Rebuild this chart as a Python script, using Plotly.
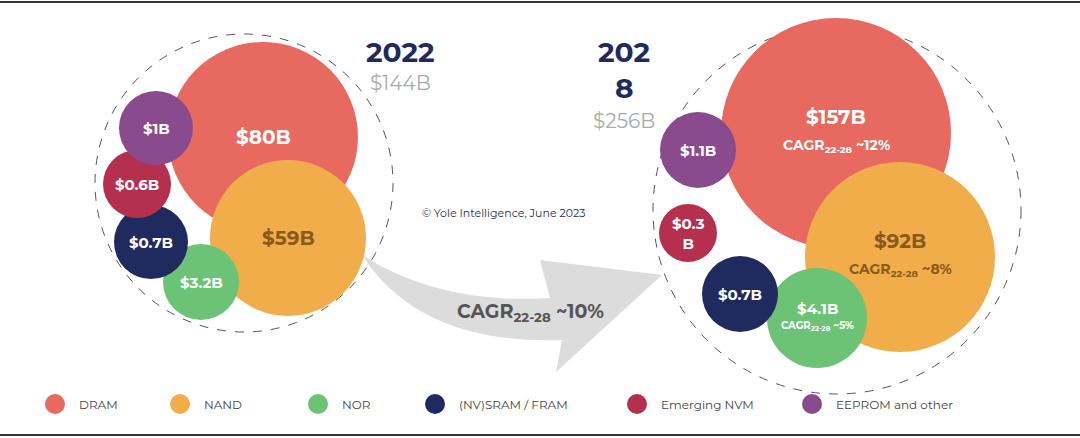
import plotly.graph_objects as go

segments = ["DRAM", "NAND", "NOR", "(NV)SRAM / FRAM", "Emerging NVM", "EEPROM and other"]
colors = ["#e8695f", "#f0ad4a", "#6cc375", "#1f2b5e", "#b5304f", "#8a4a8e"]
values_2022 = ["$80B", "$59B", "$3.2B", "$0.7B", "$0.6B", "$1B"]
values_2028 = ["$157B", "$92B", "$4.1B", "$0.7B", "$0.3<br>B", "$1.1B"]
cagr_2028 = ["CAGR<sub>22-28</sub> ~12%", "CAGR<sub>22-28</sub> ~8%", "CAGR<sub>22-28</sub> ~5%", "", "", ""]
totals = ["$144B", "$256B"]

# layout geometry (pixel space)
pos_2022 = [(263, 137, 95), (288, 238, 78), (201, 282, 38), (151, 242, 37), (137, 184, 34), (156, 128, 37)]
pos_2028 = [(836, 133, 115), (900, 257, 95), (817, 318, 50), (740, 294, 38), (688, 233, 29), (698, 150, 38)]
legend_x = [55, 180, 318, 435, 637, 812]

F = "Montserrat, Open Sans, sans-serif"
fig = go.Figure()
shapes = []
ann = []

def circ(cx, cy, r, **kw):
    return dict(type="circle", xref="x", yref="y", x0=cx - r, x1=cx + r, y0=cy - r, y1=cy + r, **kw)

# arrow
shapes.append(dict(type="path", xref="x", yref="y",
                   path="M 362,255 Q 420,345 562,340 L 556,372 L 662,275 L 540,260 L 550,298 Q 440,305 362,255 Z",
                   fillcolor="#dcdcdc", line=dict(width=0), layer="below"))
shapes.append(circ(244, 183, 149, line=dict(color="#555", width=1, dash="dash")))
shapes.append(circ(837, 210, 184, line=dict(color="#555", width=1, dash="dash")))

for i in range(6):
    for pos, vals in ((pos_2022, values_2022), (pos_2028, values_2028)):
        cx, cy, r = pos[i]
        shapes.append(circ(cx, cy, r, fillcolor=colors[i], line=dict(width=0)))
    tc = "#8a5a1a" if i == 1 else "white"
    cx, cy, r = pos_2022[i]
    ann.append(dict(x=cx, y=cy, text="<b>%s</b>" % values_2022[i],
                    font=dict(size=20 if i < 2 else 15, color=tc, family=F), showarrow=False))
    cx, cy, r = pos_2028[i]
    off = -16 if cagr_2028[i] else 0
    if i == 2:
        off = -10
    ann.append(dict(x=cx, y=cy + off, text="<b>%s</b>" % values_2028[i],
                    font=dict(size=20 if i < 2 else 15, color=tc, family=F), showarrow=False))
    if cagr_2028[i]:
        ann.append(dict(x=cx, y=cy + (12 if i != 2 else 8), text="<b>%s</b>" % cagr_2028[i],
                        font=dict(size=14 if i < 2 else 10, color=tc, family=F), showarrow=False))
    shapes.append(circ(legend_x[i], 404, 10, fillcolor=colors[i], line=dict(width=0)))
    ann.append(dict(x=legend_x[i] + 22, y=404, text=segments[i], xanchor="left",
                    font=dict(size=12, color="#444", family=F), showarrow=False))

navy = "#1f2b5e"
ann += [
    dict(x=400, y=52, text="<b>2022</b>", font=dict(size=28, color=navy, family=F), showarrow=False),
    dict(x=400, y=83, text=totals[0], font=dict(size=20, color="#aaa", family=F), showarrow=False),
    dict(x=624, y=52, text="<b>202</b>", font=dict(size=28, color=navy, family=F), showarrow=False),
    dict(x=624, y=88, text="<b>8</b>", font=dict(size=28, color=navy, family=F), showarrow=False),
    dict(x=624, y=121, text=totals[1], font=dict(size=20, color="#aaa", family=F), showarrow=False),
    dict(x=503, y=213, text="© Yole Intelligence, June 2023", font=dict(size=11, color="#1f2b5e", family=F), showarrow=False),
    dict(x=530, y=312, text="<b>CAGR<sub>22-28</sub> ~10%</b>", font=dict(size=19, color="#555", family=F), showarrow=False),
]
shapes.append(dict(type="line", xref="x", yref="y", x0=0, x1=1080, y0=2, y1=2, line=dict(color="#333", width=2)))
shapes.append(dict(type="line", xref="x", yref="y", x0=0, x1=1080, y0=435, y1=435, line=dict(color="#333", width=2)))

fig.update_layout(width=1080, height=438, margin=dict(l=0, r=0, t=0, b=0),
                  plot_bgcolor="white", paper_bgcolor="white", shapes=shapes, annotations=ann,
                  xaxis=dict(range=[0, 1080], visible=False, fixedrange=True),
                  yaxis=dict(range=[438, 0], visible=False, fixedrange=True),
                  showlegend=False)
fig.write_html("out.html", config={"displayModeBar": False})
with open("out.html", encoding="utf-8") as f:
    html = f.read()
html = html.replace("<body>", '<body style="margin:0;overflow:hidden">', 1)
with open("out.html", "w", encoding="utf-8") as f:
    f.write(html)
